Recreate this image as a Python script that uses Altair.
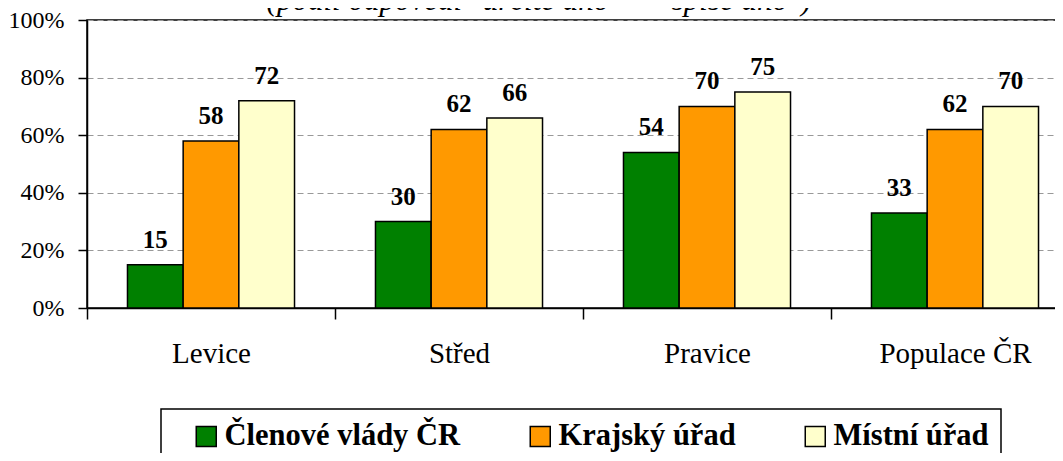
import altair as alt
import pandas as pd

categories = ["Levice", "Střed", "Pravice", "Populace ČR"]
series = ["Členové vlády ČR", "Krajský úřad", "Místní úřad"]
colors = ["#008000", "#FF9900", "#FFFFCC"]
vlada = [15, 30, 54, 33]
kraj = [58, 62, 70, 62]
mistni = [72, 66, 75, 70]
title_text = '(podíl odpovědí "určitě ano" + "spíše ano")'

rows = []
for i, c in enumerate(categories):
    for s, vals in zip(series, [vlada, kraj, mistni]):
        rows.append({"kat": c, "serie": s, "hodnota": vals[i], "podil": vals[i] / 100})
df = pd.DataFrame(rows)

SERIF = "Liberation Serif, Times New Roman, serif"

base = alt.Chart(df).encode(
    x=alt.X("kat:N", sort=categories,
            scale=alt.Scale(paddingInner=0, paddingOuter=0),
            axis=alt.Axis(title=None, labelAngle=0, labelFont=SERIF, labelFontSize=29,
                          labelColor="black", tickBand="extent", tickSize=11,
                          tickColor="black", tickWidth=1.5, domainColor="black",
                          domainWidth=1.5, labelPadding=20, grid=False)),
    xOffset=alt.XOffset("serie:N", sort=series,
                        scale=alt.Scale(paddingInner=0, paddingOuter=0.727)),
)

bars = base.mark_bar(stroke="black", strokeWidth=1.5).encode(
    y=alt.Y("podil:Q", scale=alt.Scale(domain=[0, 1], nice=False),
            axis=alt.Axis(title=None, values=[0, 0.2, 0.4, 0.6, 0.8, 1.0], format=".0%",
                          labelFont=SERIF, labelFontSize=24, labelColor="black",
                          tickSize=9, tickColor="black", tickWidth=1.5,
                          domainColor="black", domainWidth=1.5, labelPadding=14,
                          grid=True, gridColor="#999999", gridDash=[6, 4], gridWidth=1)),
    color=alt.Color("serie:N", sort=series,
                    scale=alt.Scale(domain=series, range=colors),
                    legend=alt.Legend(title=None, orient="none", legendX=74, legendY=389,
                                      direction="horizontal", symbolType="square",
                                      symbolSize=400, symbolStrokeColor="black",
                                      symbolStrokeWidth=1.5, labelFont=SERIF,
                                      labelFontWeight="bold", labelFontSize=30.5,
                                      labelColor="black", labelLimit=600,
                                      columnPadding=46, padding=12, symbolOffset=18,
                                      labelOffset=3, strokeColor="black")),
)

labels = base.mark_text(font=SERIF, fontSize=25, fontWeight="bold", color="black",
                        baseline="alphabetic", dy=-17).encode(
    y="podil:Q",
    text="hodnota:Q",
)

title = alt.Chart(pd.DataFrame({"t": [title_text]})).mark_text(
    font=SERIF, fontSize=31, fontStyle="italic", color="black",
    align="center", baseline="alphabetic",
).encode(text="t:N", x=alt.value(452), y=alt.value(-10))

chart = alt.layer(bars, labels, title).properties(
    width=992, height=288,
    autosize=alt.AutoSizeParams(type="none"),
    padding={"left": 79, "top": 12, "right": -24, "bottom": 145},
).configure_view(stroke="black", strokeWidth=1.5).configure_legend(strokeWidth=1.5)

chart.save("out.html", embed_options={"renderer": "svg", "actions": False})
